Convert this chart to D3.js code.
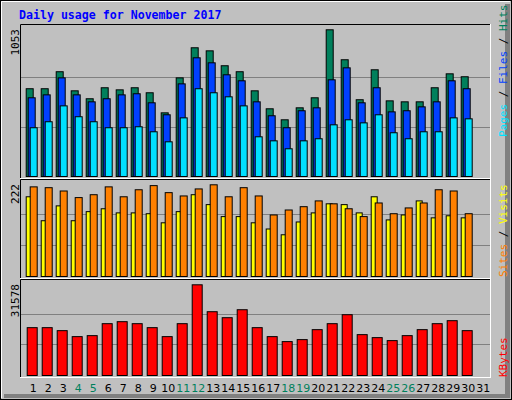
<!DOCTYPE html>
<html><head><meta charset="utf-8">
<script src="https://cdn.jsdelivr.net/npm/d3@7"></script>
<style>body{margin:0;background:#fff}svg{display:block}</style>
</head><body><svg id="c" width="512" height="400"></svg>
<script>
const days = d3.range(1, 32);
const weekendDays = [4,5,11,12,18,19,25,26];
const hits  = [630,630,752,615,558,637,622,637,601,457,708,924,902,795,752,615,486,407,493,565,1053,838,551,766,543,536,536,637,737,716,0];
const files = [565,586,708,586,536,558,586,594,529,443,665,852,816,730,687,536,436,350,472,493,694,780,529,637,464,472,500,536,687,630,0];
const pages = [350,393,507,429,393,350,350,357,321,249,421,630,601,572,507,285,256,199,256,271,371,407,385,443,314,271,321,321,421,414,0];
const visits = [193,135,171,135,157,164,154,154,152,130,157,198,174,145,145,130,115,101,132,154,176,174,154,193,137,149,183,142,147,142,0];
const sites  = [217,215,207,191,198,217,193,210,220,203,195,212,222,193,215,195,149,161,169,183,176,164,145,178,152,166,178,210,207,152,0];
const kbytes = [16656,16656,15615,13533,13880,18044,18738,18044,16656,13533,18044,31578,22208,20126,22902,16656,13533,11798,12492,15962,18044,21167,14227,13186,12145,13880,15962,18044,19085,15615,0];
const maxLabels = ["1053","222","31578"];

const svg = d3.select("#c");
svg.append("rect").attr("x",0).attr("y",0).attr("width",512).attr("height",400).attr("fill","#c0c0c0");
svg.append("rect").attr("x",0.5).attr("y",0.5).attr("width",511).attr("height",399).attr("fill","none").attr("stroke","#000");
svg.append("path").attr("d","M1.5,398V1.5H510").attr("stroke","#fff").attr("fill","none");
svg.append("rect").attr("x",505).attr("y",4).attr("width",5).attr("height",394).attr("fill","#808080");
svg.append("rect").attr("x",4).attr("y",394).attr("width",506).attr("height",4).attr("fill","#808080");

svg.append("text").attr("x",19).attr("y",19).text("Daily usage for November 2017")
  .attr("font-family","DejaVu Sans Mono").attr("font-weight","bold").attr("font-size",11.6).attr("fill","#0000ff");

const x = d3.scaleBand().domain(days).range([25.7, 25.7+15*31]).paddingInner(0);
const mono = "DejaVu Sans Mono";

function panel(top, bottom, maxTop, maxVal, label){
  svg.append("rect").attr("x",20.5).attr("y",top+0.5).attr("width",470).attr("height",bottom-top).attr("fill","none").attr("stroke","#fff");
  svg.append("path").attr("d",`M20.5,${bottom}V${top+0.5}H490`).attr("stroke","#000").attr("fill","none");
  const y = d3.scaleLinear().domain([0,maxVal]).range([bottom-2, maxTop]);
  const h = bottom-2-(top+4);
  [1,2].forEach(k=>{
    const gy = Math.round(bottom-2-k*h/3)+0.5;
    svg.append("line").attr("x1",21).attr("x2",490).attr("y1",gy).attr("y2",gy).attr("stroke","#808080");
  });
  svg.append("text").attr("transform",`translate(19,${top+5}) rotate(-90)`).attr("text-anchor","end")
    .attr("font-family",mono).attr("font-size",11).attr("fill","#000").text(label);
  return y;
}
function bars(y, data, dx, w, color){
  svg.append("g").selectAll("rect").data(days.filter((d,i)=>data[i]>0)).join("rect")
    .attr("x",d=>x(d)+dx+0.5).attr("y",d=>y(data[d-1])+0.5)
    .attr("width",w).attr("height",d=>y(0)-y(data[d-1]))
    .attr("fill",color).attr("stroke","#000");
}
const y1 = panel(24,178,29.3,1053,maxLabels[0]);
bars(y1,hits,0,7,"#00805c");
bars(y1,files,2,7,"#0040ff");
bars(y1,pages,4,7,"#00e0ff");
const y2 = panel(179,278,184.3,222,maxLabels[1]);
bars(y2,visits,0,6,"#ffff00");
bars(y2,sites,4,7,"#ff8000");
const y3 = panel(279,377,284.3,31578,maxLabels[2]);
bars(y3,kbytes,1,10,"#ff0000");

svg.append("g").selectAll("text").data(days).join("text")
  .attr("x",d=>x(d)+7.5).attr("y",392).attr("text-anchor","middle")
  .attr("font-family","DejaVu Sans").attr("font-size",11)
  .attr("fill",d=>weekendDays.includes(d)?"#00805c":"#000").text(d=>d);

function rlabel(yStart, parts){
  const t = svg.append("text").attr("transform",`translate(507,${yStart}) rotate(-90)`)
    .attr("font-family",mono).attr("font-size",11);
  parts.forEach(p=>t.append("tspan").attr("fill",p[1]).text(p[0]));
}
rlabel(137,[["Pages","#00e0ff"],[" / ","#000"],["Files","#0040ff"],[" / ","#000"],["Hits","#00805c"]]);
rlabel(277,[["Sites","#ff8000"],[" / ","#000"],["Visits","#ffff00"]]);
rlabel(377,[["KBytes","#ff0000"]]);
</script></body></html>
